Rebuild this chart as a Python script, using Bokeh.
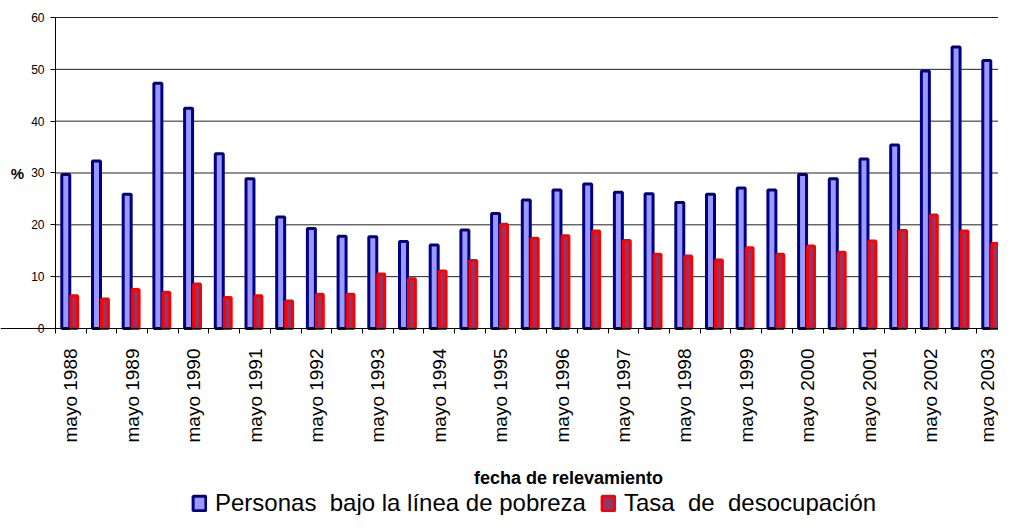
import math
from bokeh.plotting import figure
from bokeh.models import (Range1d, FixedTicker, Label, Legend, LegendItem, ColumnDataSource)
from bokeh.embed import file_html
from bokeh.resources import INLINE

# ---- data ----
anios = list(range(1988, 2004))
categorias = []
for a in anios:
    categorias.append("mayo %d" % a)
    if a < 2003:
        categorias.append("oct %d" % a)

pobreza = [29.7, 32.3, 25.9, 47.3, 42.5, 33.7, 28.9, 21.5, 19.3, 17.8, 17.7,
           16.8, 16.1, 19.0, 22.2, 24.8, 26.7, 27.9, 26.3, 26.0, 24.3, 25.9,
           27.1, 26.7, 29.7, 28.9, 32.7, 35.4, 49.7, 54.3, 51.7]
desocupacion = [6.3, 5.7, 7.5, 7.0, 8.6, 6.0, 6.3, 5.3, 6.6, 6.6, 10.5,
                9.6, 11.1, 13.1, 20.1, 17.4, 17.9, 18.8, 17.0, 14.3, 14.0,
                13.2, 15.6, 14.3, 15.9, 14.7, 16.9, 18.9, 21.9, 18.8, 16.4]
etiquetas_x = {i: c for i, c in enumerate(categorias) if c.startswith("mayo")}
ticks_y = [0, 10, 20, 30, 40, 50, 60]

serie1 = "Personas  bajo la línea de pobreza"
serie2 = "Tasa  de  desocupación"
titulo_x = "fecha de relevamiento"
titulo_y = "%"

n = len(categorias)
idx = list(range(n))
src = ColumnDataSource(dict(
    x1=[i - 0.165 for i in idx],
    x2=[i + 0.11 for i in idx],
    pob=pobreza,
    des=desocupacion,
))

FONT = "Liberation Sans"
X0, X1 = -2.2915, 30.2166
Y0, Y1 = -36.08, 63.28

# the frame covers the whole canvas; axes are pinned at x=-0.5 and y=0
p = figure(width=998, height=515, output_backend="svg", toolbar_location=None,
           x_range=Range1d(X0, X1), y_range=Range1d(Y0, Y1), min_border=0)
p.outline_line_color = None
p.background_fill_color = "white"
p.border_fill_color = "white"
p.xgrid.visible = False
p.ygrid.visible = False

# horizontal grid lines starting at the value axis
p.segment(x0=[-0.5] * len(ticks_y), x1=[X1 + 1] * len(ticks_y),
          y0=ticks_y, y1=ticks_y, line_color="#222222", line_width=1,
          level="underlay")

r1 = p.vbar(x="x1", top="pob", bottom=0, width=0.26, source=src,
            fill_color="#9999FF", line_color="#000080", line_width=3)
r2 = p.vbar(x="x2", top="des", bottom=0, width=0.225, source=src,
            fill_color="#993366", line_color="#FF0000", line_width=3)

# x axis
xa = p.xaxis[0]
xa.fixed_location = 0
xa.ticker = FixedTicker(ticks=list(etiquetas_x.keys()),
                        minor_ticks=[i - 0.5 for i in range(n + 1)])
xa.major_label_overrides = etiquetas_x
xa.major_label_orientation = math.pi / 2
xa.major_tick_line_color = None
xa.major_tick_out = 0
xa.major_tick_in = 0
xa.minor_tick_out = 5
xa.minor_tick_in = 0
xa.minor_tick_line_color = "black"
xa.axis_line_color = "black"
xa.major_label_standoff = 15
xa.major_label_text_font = FONT
xa.major_label_text_font_size = "19px"
xa.major_label_text_color = "black"

# y axis
ya = p.yaxis[0]
ya.fixed_location = -0.5
ya.bounds = (0, 60)
ya.ticker = FixedTicker(ticks=ticks_y)
ya.minor_tick_line_color = None
ya.major_tick_out = 5
ya.major_tick_in = 0
ya.major_tick_line_color = "black"
ya.axis_line_color = "black"
ya.major_label_standoff = 6
ya.major_label_text_font = FONT
ya.major_label_text_font_size = "12px"
ya.major_label_text_color = "black"

# axis titles
p.add_layout(Label(x=17, y=342, x_units="screen", y_units="screen",
                   text=titulo_y, text_align="center", text_baseline="middle",
                   text_font=FONT, text_font_style="bold",
                   text_font_size="15px", text_color="black"))
p.add_layout(Label(x=568, y=38, x_units="screen", y_units="screen",
                   text=titulo_x, text_align="center",
                   text_baseline="middle", text_font=FONT,
                   text_font_style="bold", text_font_size="18px",
                   text_color="black"))

legend = Legend(items=[LegendItem(label=serie1, renderers=[r1]),
                       LegendItem(label=serie2, renderers=[r2])],
                orientation="horizontal", location=(191, -2),
                glyph_width=16, glyph_height=18, label_standoff=8,
                spacing=14, padding=0, margin=0,
                border_line_color=None, background_fill_alpha=0,
                label_text_font=FONT, label_text_font_size="24px",
                label_text_color="black")
p.add_layout(legend, "center")

open("out.html", "w").write(file_html(p, INLINE))
